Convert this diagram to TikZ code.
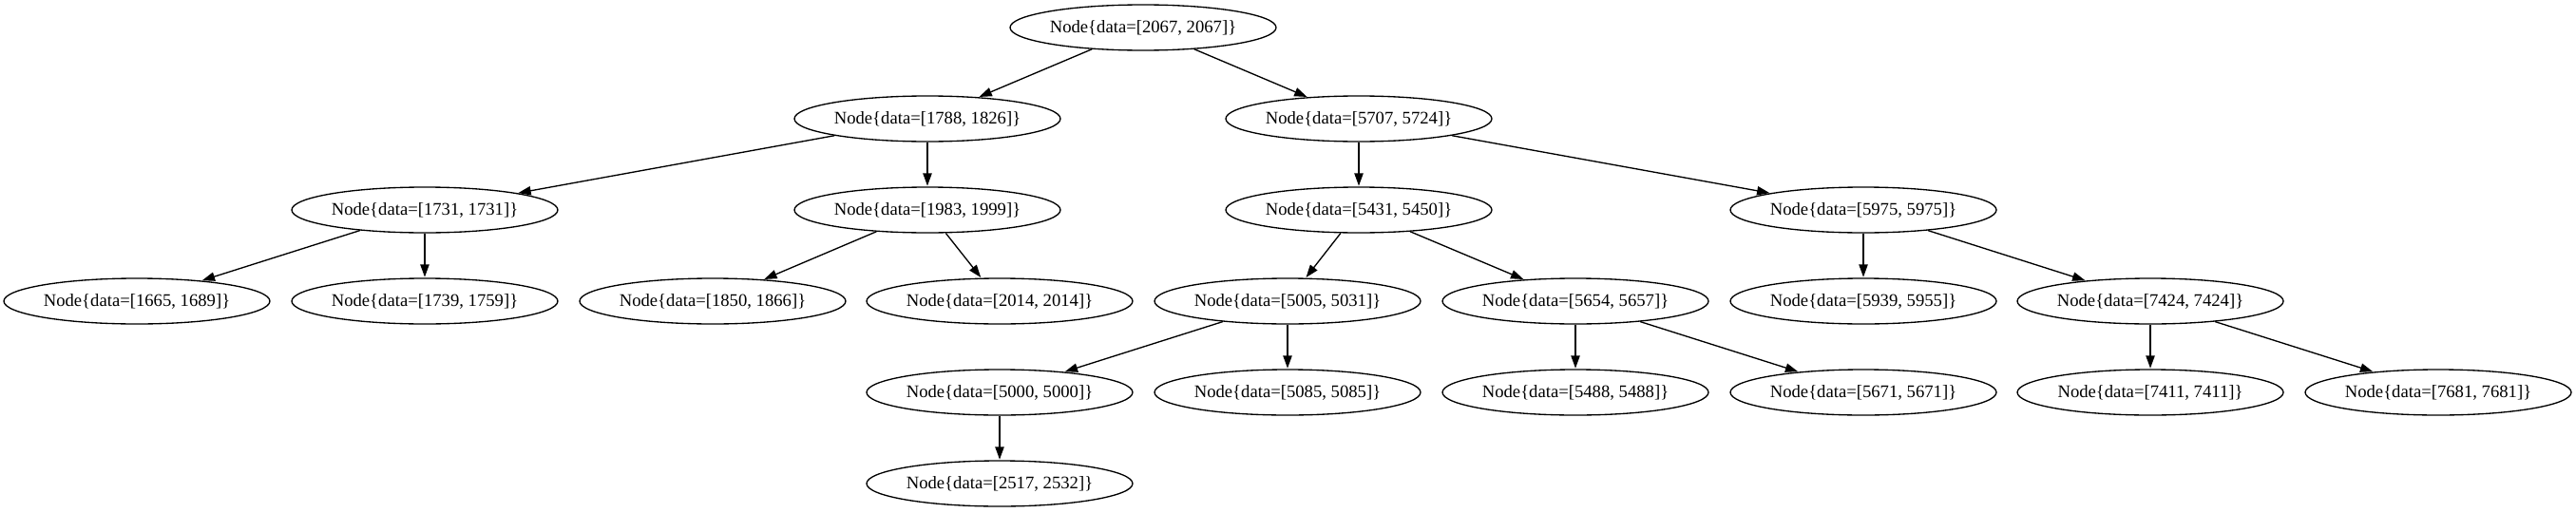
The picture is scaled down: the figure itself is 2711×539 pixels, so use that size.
\documentclass[tikz,border=0pt]{standalone}
\usepackage{fontspec}
\setmainfont{Liberation Serif}
\usetikzlibrary{shapes.geometric,arrows.meta}
\begin{document}
\begin{tikzpicture}[x=0.75pt,y=-0.75pt,
  tnode/.style={draw,ellipse,line width=1pt,minimum width=210pt,minimum height=36pt,inner sep=0pt,font=\fontsize{14pt}{16pt}\selectfont},
  edge/.style={line width=1pt,-{Triangle[length=10pt,width=7pt]},shorten >=0.5pt}]
\useasboundingbox (0,0) rectangle (2711,539);
% row 0
\node[tnode] (r) at (1203,29) {Node\{data=[2067, 2067]\}};
% row 1
\node[tnode] (a1788) at (976,125) {Node\{data=[1788, 1826]\}};
\node[tnode] (a5707) at (1430,125) {Node\{data=[5707, 5724]\}};
% row 2
\node[tnode] (a1731) at (447,221) {Node\{data=[1731, 1731]\}};
\node[tnode] (a1983) at (976,221) {Node\{data=[1983, 1999]\}};
\node[tnode] (a5431) at (1430,221) {Node\{data=[5431, 5450]\}};
\node[tnode] (a5975) at (1961,221) {Node\{data=[5975, 5975]\}};
% row 3
\node[tnode] (a1665) at (144,317) {Node\{data=[1665, 1689]\}};
\node[tnode] (a1739) at (447,317) {Node\{data=[1739, 1759]\}};
\node[tnode] (a1850) at (750,317) {Node\{data=[1850, 1866]\}};
\node[tnode] (a2014) at (1052,317) {Node\{data=[2014, 2014]\}};
\node[tnode] (a5005) at (1355,317) {Node\{data=[5005, 5031]\}};
\node[tnode] (a5654) at (1658,317) {Node\{data=[5654, 5657]\}};
\node[tnode] (a5939) at (1961,317) {Node\{data=[5939, 5955]\}};
\node[tnode] (a7424) at (2263,317) {Node\{data=[7424, 7424]\}};
% row 4
\node[tnode] (a5000) at (1052,413) {Node\{data=[5000, 5000]\}};
\node[tnode] (a5085) at (1355,413) {Node\{data=[5085, 5085]\}};
\node[tnode] (a5488) at (1658,413) {Node\{data=[5488, 5488]\}};
\node[tnode] (a5671) at (1961,413) {Node\{data=[5671, 5671]\}};
\node[tnode] (a7411) at (2263,413) {Node\{data=[7411, 7411]\}};
\node[tnode] (a7681) at (2566,413) {Node\{data=[7681, 7681]\}};
% row 5
\node[tnode] (a2517) at (1052,509) {Node\{data=[2517, 2532]\}};
% edges
\draw[edge] (r) -- (a1788);
\draw[edge] (r) -- (a5707);
\draw[edge] (a1788) -- (a1731);
\draw[edge] (a1788) -- (a1983);
\draw[edge] (a1731) -- (a1665);
\draw[edge] (a1731) -- (a1739);
\draw[edge] (a1983) -- (a1850);
\draw[edge] (a1983) -- (a2014);
\draw[edge] (a5707) -- (a5431);
\draw[edge] (a5707) -- (a5975);
\draw[edge] (a5431) -- (a5005);
\draw[edge] (a5431) -- (a5654);
\draw[edge] (a5005) -- (a5000);
\draw[edge] (a5005) -- (a5085);
\draw[edge] (a5000) -- (a2517);
\draw[edge] (a5654) -- (a5488);
\draw[edge] (a5654) -- (a5671);
\draw[edge] (a5975) -- (a5939);
\draw[edge] (a5975) -- (a7424);
\draw[edge] (a7424) -- (a7411);
\draw[edge] (a7424) -- (a7681);
\end{tikzpicture}
\end{document}
